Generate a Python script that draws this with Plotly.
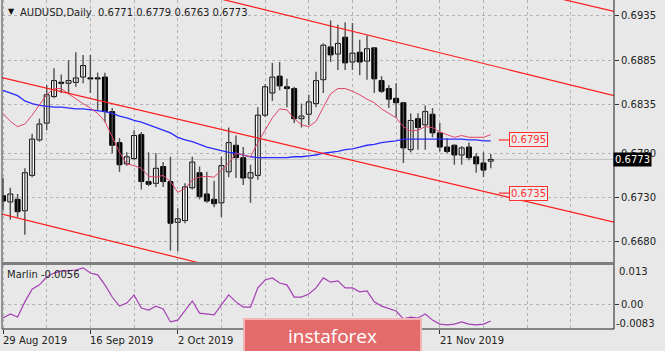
import plotly.graph_objects as go
import pandas as pd

symbol = "AUDUSD"
timeframe = "Daily"
start_date = "2019-08-29"

opens = [0.6732, 0.6725, 0.6728, 0.6715, 0.6755, 0.6795, 0.6814, 0.6844, 0.6860, 0.6859,
         0.6860, 0.6866, 0.6865, 0.6865, 0.6866, 0.6827, 0.6792, 0.6768, 0.6774, 0.6801,
         0.6748, 0.6746, 0.6765, 0.6748, 0.6702, 0.6704, 0.6741, 0.6758, 0.6734, 0.6728,
         0.6724, 0.6759, 0.6789, 0.6775, 0.6752, 0.6755, 0.6823, 0.6848, 0.6867, 0.6855,
         0.6853, 0.6819, 0.6824, 0.6836, 0.6863, 0.6900, 0.6892, 0.6911, 0.6883, 0.6894,
         0.6884, 0.6899, 0.6862, 0.6853, 0.6842, 0.6837, 0.6784, 0.6819, 0.6812, 0.6824,
         0.6803, 0.6787, 0.6789, 0.6778, 0.6787, 0.6776, 0.6769, 0.6771]
highs = [0.6752, 0.6741, 0.6734, 0.6763, 0.6802, 0.6819, 0.6857, 0.6876, 0.6869, 0.6885,
         0.6894, 0.6891, 0.6891, 0.6871, 0.6871, 0.6831, 0.6797, 0.6781, 0.6806, 0.6804,
         0.6781, 0.6780, 0.6770, 0.6776, 0.6718, 0.6746, 0.6776, 0.6765, 0.6759, 0.6749,
         0.6776, 0.6809, 0.6800, 0.6787, 0.6767, 0.6832, 0.6858, 0.6882, 0.6883, 0.6864,
         0.6855, 0.6836, 0.6846, 0.6872, 0.6904, 0.6930, 0.6925, 0.6928, 0.6927, 0.6908,
         0.6913, 0.6900, 0.6867, 0.6857, 0.6859, 0.6838, 0.6825, 0.6825, 0.6834, 0.6831,
         0.6814, 0.6797, 0.6790, 0.6788, 0.6792, 0.6780, 0.6781, 0.6779]
lows = [0.6716, 0.6705, 0.6708, 0.6688, 0.6753, 0.6793, 0.6806, 0.6842, 0.6848, 0.6848,
        0.6855, 0.6859, 0.6848, 0.6829, 0.6815, 0.6780, 0.6759, 0.6766, 0.6772, 0.6739,
        0.6743, 0.6742, 0.6742, 0.6670, 0.6669, 0.6701, 0.6739, 0.6728, 0.6724, 0.6719,
        0.6708, 0.6753, 0.6752, 0.6744, 0.6724, 0.6750, 0.6821, 0.6839, 0.6851, 0.6832,
        0.6814, 0.6809, 0.6812, 0.6832, 0.6848, 0.6883, 0.6874, 0.6874, 0.6874, 0.6868,
        0.6863, 0.6848, 0.6848, 0.6831, 0.6820, 0.6769, 0.6781, 0.6784, 0.6784, 0.6798,
        0.6782, 0.6780, 0.6767, 0.6767, 0.6772, 0.6758, 0.6753, 0.6763]
closes = [0.6726, 0.6734, 0.6714, 0.6758, 0.6796, 0.6813, 0.6846, 0.6862, 0.6859, 0.6862,
          0.6865, 0.6879, 0.6864, 0.6864, 0.6827, 0.6789, 0.6767, 0.6776, 0.6800, 0.6748,
          0.6745, 0.6763, 0.6748, 0.6701, 0.6706, 0.6742, 0.6770, 0.6731, 0.6726, 0.6723,
          0.6766, 0.6792, 0.6775, 0.6752, 0.6758, 0.6823, 0.6855, 0.6866, 0.6856, 0.6853,
          0.6819, 0.6822, 0.6838, 0.6862, 0.6902, 0.6891, 0.6904, 0.6882, 0.6893, 0.6883,
          0.6898, 0.6864, 0.6850, 0.6841, 0.6837, 0.6786, 0.6817, 0.6809, 0.6827, 0.6803,
          0.6787, 0.6782, 0.6778, 0.6786, 0.6775, 0.6768, 0.6761, 0.6773]

ma_fast = [0.6825, 0.6816, 0.6810, 0.6813, 0.6823, 0.6834, 0.6846, 0.6853, 0.6853, 0.6847,
           0.6841, 0.6836, 0.6831, 0.6825, 0.6816, 0.6798, 0.6781, 0.6768, 0.6766, 0.6763,
           0.6754, 0.6753, 0.6755, 0.6748, 0.6736, 0.6740, 0.6750, 0.6753, 0.6754, 0.6753,
           0.6761, 0.6769, 0.6780, 0.6778, 0.6776, 0.6792, 0.6806, 0.6820, 0.6830, 0.6829,
           0.6819, 0.6812, 0.6810, 0.6816, 0.6832, 0.6847, 0.6853, 0.6853, 0.6850, 0.6846,
           0.6841, 0.6837, 0.6830, 0.6825, 0.6820, 0.6810, 0.6805, 0.6806, 0.6810, 0.6809,
           0.6804, 0.6801, 0.6798, 0.6800, 0.6798, 0.6798, 0.6798, 0.6801]
ma_slow = [0.6851, 0.6848, 0.6845, 0.6839, 0.6836, 0.6834, 0.6833, 0.6832, 0.6832, 0.6831,
           0.6830, 0.6830, 0.6829, 0.6828, 0.6827, 0.6825, 0.6822, 0.6820, 0.6817, 0.6815,
           0.6812, 0.6809, 0.6806, 0.6803, 0.6798, 0.6795, 0.6793, 0.6790, 0.6787, 0.6785,
           0.6783, 0.6781, 0.6780, 0.6778, 0.6776, 0.6775, 0.6775, 0.6775, 0.6775, 0.6775,
           0.6776, 0.6776, 0.6777, 0.6778, 0.6780, 0.6781, 0.6782, 0.6784, 0.6785, 0.6787,
           0.6789, 0.6790, 0.6792, 0.6793, 0.6794, 0.6796, 0.6796, 0.6796, 0.6796, 0.6796,
           0.6796, 0.6796, 0.6796, 0.6796, 0.6795, 0.6795, 0.6794, 0.6794]
marlin = [-0.0046, -0.0033, -0.0043, 0.0007, 0.0049, 0.0063, 0.0089, 0.0102, 0.0109, 0.0109,
          0.0112, 0.0119, 0.0102, 0.0096, 0.0063, 0.0023, -0.0007, 0.0003, 0.0030, -0.0013,
          -0.0020, -0.0007, -0.0016, -0.0059, -0.0053, -0.0023, 0.0010, -0.0030, -0.0033, -0.0036,
          -0.0003, 0.0030, 0.0007, -0.0010, -0.0010, 0.0053, 0.0079, 0.0086, 0.0069, 0.0063,
          0.0023, 0.0023, 0.0033, 0.0053, 0.0086, 0.0072, 0.0076, 0.0053, 0.0053, 0.0040,
          0.0043, 0.0007, -0.0007, -0.0016, -0.0023, -0.0049, -0.0043, -0.0046, -0.0033, -0.0053,
          -0.0066, -0.0069, -0.0066, -0.0059, -0.0066, -0.0069, -0.0066, -0.0056]

price_ticks = [0.6680, 0.6730, 0.6780, 0.6835, 0.6885, 0.6935]
marlin_max = 0.013
marlin_min = -0.0083
marlin_zero = 0.0
levels = [0.6795, 0.6735]
date_label_bars = [0, 12, 24, 60]
# trend/channel lines: (bar0, price0, bar1, price1)
channel_x0 = [70, 28, -1, -1]
channel_p0 = [0.6967, 0.6958, 0.6867, 0.6713]
channel_x1 = [84, 84, 84, 30]
channel_p1 = [0.6940, 0.6845, 0.6702, 0.6650]

# ---------------------------------------------------------------
n = len(closes)
dates = pd.bdate_range(start_date, periods=n)
idx = list(range(n))

W, H = 665, 351
ML, MR, MT, MB = 2, 51, 0, 22
PW, PH = W - ML - MR, H - MT - MB
FONT = "DejaVu Sans"
BG = "#E8E8E8"
GRID = "#B4B4B4"


def px(xp):
    return (xp - ML) / PW


def py(yp):
    return (H - MB - yp) / PH


fig = go.Figure()

# wicks
wx, wy = [], []
for i in idx:
    wx += [i, i, None]
    wy += [lows[i], highs[i], None]
fig.add_trace(go.Scatter(x=wx, y=wy, mode="lines", line=dict(color="#505050", width=1.4),
                         hoverinfo="skip", xaxis="x", yaxis="y"))
# bodies
mind = 0.00012
base, hgt, cols = [], [], []
for o, c in zip(opens, closes):
    lo, hi = min(o, c), max(o, c)
    if hi - lo < mind:
        mid = (hi + lo) / 2
        lo, hi = mid - mind / 2, mid + mind / 2
    base.append(lo)
    hgt.append(hi - lo)
    cols.append("#FFFFFF" if c >= o else "#000000")
fig.add_trace(go.Bar(x=idx, y=hgt, base=base, width=0.68, marker=dict(color=cols, line=dict(color="#000000", width=1)),
                     xaxis="x", yaxis="y", hoverinfo="skip"))

# moving averages
fig.add_trace(go.Scatter(x=idx, y=ma_slow, mode="lines", line=dict(color="#2B2BFF", width=1.3), xaxis="x", yaxis="y"))
fig.add_trace(go.Scatter(x=idx, y=ma_fast, mode="lines", line=dict(color="#E24468", width=1), xaxis="x", yaxis="y"))

# channel lines
for a, b, c, d in zip(channel_x0, channel_p0, channel_x1, channel_p1):
    fig.add_trace(go.Scatter(x=[a, c], y=[b, d], mode="lines", line=dict(color="#FF1A1A", width=1.2),
                             xaxis="x", yaxis="y", hoverinfo="skip"))

# level markers
for lv in levels:
    fig.add_trace(go.Scatter(x=[n + 0.1, n + 1.5], y=[lv, lv], mode="lines", line=dict(color="#FF2A2A", width=1.2),
                             xaxis="x", yaxis="y", hoverinfo="skip"))

# marlin
fig.add_trace(go.Scatter(x=idx, y=marlin, mode="lines", line=dict(color="#A43FB4", width=1.2), xaxis="x2", yaxis="y2"))

grid_vals = list(range(0, 84, 6))

fig.update_layout(
    width=W, height=H, margin=dict(l=ML, r=MR, t=MT, b=MB),
    paper_bgcolor=BG, plot_bgcolor=BG, showlegend=False, barmode="overlay",
    font=dict(family=FONT, size=10, color="#222222"),
    xaxis=dict(domain=[0, 1], range=[-0.14, 83.93], anchor="y", tickvals=grid_vals, showticklabels=False,
               ticks="", showgrid=True, gridcolor=GRID, griddash="3px,3px", gridwidth=1, zeroline=False, showline=False),
    xaxis2=dict(domain=[0, 1], range=[-0.14, 83.93], anchor="y2", matches="x", tickvals=date_label_bars,
                showticklabels=False, ticks="outside", ticklen=4, tickcolor="#333333",
                showgrid=True, gridcolor=GRID, griddash="3px,3px", zeroline=False, showline=False,
                minor=dict(tickmode="array", tickvals=[v for v in grid_vals if v not in date_label_bars],
                           showgrid=True, gridcolor=GRID, griddash="3px,3px", ticks="")),
    yaxis=dict(domain=[py(262), 1], range=[0.66572, 0.6953], side="right", anchor="x", tickvals=price_ticks,
               tickformat=".4f", ticks="outside", ticklen=4, tickcolor="#333333",
               tickfont=dict(family=FONT, size=10, color="#222222"),
               showgrid=True, gridcolor=GRID, griddash="3px,3px", zeroline=False, showline=False),
    yaxis2=dict(domain=[0, py(265)], range=[-0.00823, 0.01285], side="right", anchor="x2", tickvals=[marlin_zero],
                ticktext=["0.00"], ticks="outside", ticklen=4, tickcolor="#333333",
                tickfont=dict(family=FONT, size=10, color="#222222"),
                showgrid=True, gridcolor=GRID, griddash="3px,3px", zeroline=False, showline=False),
)

shapes = [
    dict(type="line", xref="x domain", yref="y", x0=0, x1=1, y0=closes[-1], y1=closes[-1],
         line=dict(color="#C2C2C2", width=1), layer="below"),
    dict(type="line", xref="paper", yref="paper", x0=0, x1=0, y0=0, y1=1, line=dict(color="#404040", width=1)),
    dict(type="line", xref="paper", yref="paper", x0=1, x1=1, y0=0, y1=1, line=dict(color="#202020", width=1)),
    dict(type="line", xref="paper", yref="paper", x0=0, x1=1, y0=0, y1=0, line=dict(color="#202020", width=1)),
    dict(type="line", xref="paper", yref="paper", x0=0, x1=1, y0=py(263.5), y1=py(263.5),
         line=dict(color="#7E7E7E", width=3)),
]
fig.update_layout(shapes=shapes)

ann = []
hdr = "%s,%s\u00a0\u00a0%.4f %.4f %.4f %.4f" % (symbol, timeframe, opens[-1], highs[-1], lows[-1], closes[-1])
ann.append(dict(text="▼", x=px(6), y=py(11.5), xref="paper", yref="paper", xanchor="left", yanchor="middle",
                showarrow=False, font=dict(family=FONT, size=8, color="#111111")))
ann.append(dict(text=hdr, x=px(18), y=py(12), xref="paper", yref="paper", xanchor="left", yanchor="middle",
                showarrow=False, font=dict(family=FONT, size=10, color="#1E1E1E")))
ann.append(dict(text="Marlin %.4f" % marlin[-1], x=px(5), y=py(274), xref="paper", yref="paper", xanchor="left",
                yanchor="middle", showarrow=False, font=dict(family=FONT, size=10, color="#1E1E1E")))
ann.append(dict(text="%.3f" % marlin_max, x=px(617), y=py(271), xref="paper", yref="paper", xanchor="left",
                yanchor="middle", showarrow=False, font=dict(family=FONT, size=10, color="#222222")))
ann.append(dict(text="%.4f" % marlin_min, x=px(614), y=py(323), xref="paper", yref="paper", xanchor="left",
                yanchor="middle", showarrow=False, font=dict(family=FONT, size=10, color="#222222")))
# current price box
ann.append(dict(text="%.4f" % closes[-1], x=1, y=closes[-1], xref="paper", yref="y", xanchor="left",
                yanchor="middle", showarrow=False, bgcolor="#000000", borderpad=1, xshift=-1,
                font=dict(family=FONT, size=10, color="#FFFFFF")))
# level labels
for lv in levels:
    ann.append(dict(text="%.4f" % lv, x=n + 1.5, y=lv, xref="x", yref="y", xanchor="left", yanchor="middle",
                    showarrow=False, bgcolor="#EDEDED", bordercolor="#FF3030", borderwidth=1, borderpad=1,
                    font=dict(family=FONT, size=10, color="#FF3030")))
# date labels
for i in date_label_bars:
    ann.append(dict(text="%d %s" % (dates[i].day, dates[i].strftime("%b %Y")), x=i, y=py(340), xref="x", yref="paper",
                    xanchor="left", yanchor="middle", showarrow=False, xshift=-2,
                    font=dict(family=FONT, size=10, color="#222222")))
# logo
ann.append(dict(text="instaforex", x=px(332.5), y=py(336), xref="paper", yref="paper", xanchor="center",
                yanchor="middle", showarrow=False, width=175, height=32, bgcolor="#E36B6B",
                bordercolor="#F2B5B5", borderwidth=2, borderpad=0,
                font=dict(family="Open Sans", size=19, color="#FFFFFF")))
fig.update_layout(annotations=ann)

fig.write_html("out.html")
